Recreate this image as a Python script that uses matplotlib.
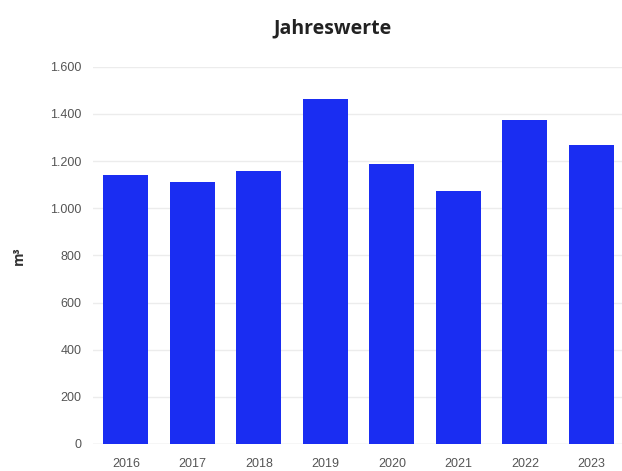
import matplotlib
matplotlib.use("Agg")
import matplotlib.pyplot as plt
from matplotlib.ticker import FuncFormatter

years = ["2016", "2017", "2018", "2019", "2020", "2021", "2022", "2023"]
values = [1141, 1109, 1157, 1462, 1187, 1071, 1375, 1269]
yticks = [0, 200, 400, 600, 800, 1000, 1200, 1400, 1600]

W, H = 622, 471
fig = plt.figure(figsize=(W / 100, H / 100), dpi=100)
left_px, right_px = 92.6, 622
bottom_px, top_px = 444, 66.7
ax = fig.add_axes([left_px / W, (H - bottom_px) / H,
                   (right_px - left_px) / W, (bottom_px - top_px) / H])

x = list(range(len(years)))
ax.bar(x, values, width=0.675, color="#1a2df2", zorder=3)
ax.set_xlim(-0.5, 7.46)
ax.set_ylim(0, 1600)
ax.set_yticks(yticks)
ax.yaxis.set_major_formatter(FuncFormatter(lambda v, p: f"{int(v):,}".replace(",", ".")))
ax.set_xticks(x)
ax.set_xticklabels(years)

ax.grid(axis="y", color="#ececec", linewidth=1, zorder=0)
for s in ax.spines.values():
    s.set_visible(False)
ax.axhline(0, color="#e6e6e6", linewidth=1, zorder=2)
ax.tick_params(axis="both", length=0, labelsize=9, labelcolor="#555555",
               labelfontfamily="Liberation Sans")
ax.tick_params(axis="y", pad=8)
ax.tick_params(axis="x", pad=10)

fig.text(333 / W, 1 - 28 / H, "Jahreswerte", ha="center", va="center",
         fontsize=14, fontweight="bold", family="Open Sans", color="#222222")
fig.text(19 / W, 1 - 256 / H, "m³", ha="center", va="center", rotation=90,
         fontsize=10, fontweight="bold", family="Open Sans", color="#333333")

fig.savefig("out.png", dpi=100)
